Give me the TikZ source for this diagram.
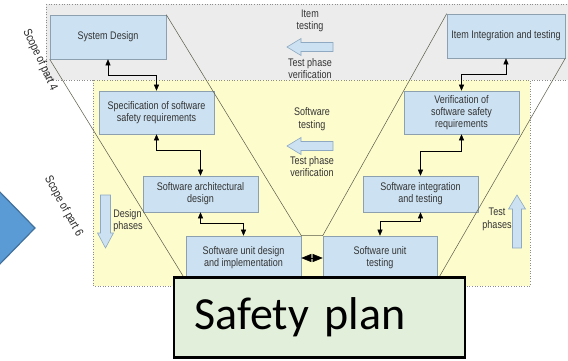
\documentclass[tikz,border=0pt]{standalone}
\usepackage{fontspec}
\setmainfont{Liberation Sans}
\newfontfamily\stagefont[FakeStretch=0.82]{Liberation Sans}
\newfontfamily\planfont{Carlito}
\usetikzlibrary{arrows.meta}

\definecolor{regiongray}{HTML}{ECECEC}
\definecolor{regionyellow}{HTML}{FDFCCD}
\definecolor{boxfill}{HTML}{CCE2F2}
\definecolor{boxline}{HTML}{8CA0AF}
\definecolor{arrowline}{HTML}{8EA9C1}
\definecolor{planfill}{HTML}{E2EFDA}
\definecolor{pointerfill}{HTML}{5B9BD5}
\definecolor{pointerline}{HTML}{41719C}
\definecolor{vline}{HTML}{5A5A48}

\tikzset{
  region/.style={draw=black!45, dotted, line width=0.6pt},
  stage/.style={draw=boxline, fill=boxfill, line width=0.6pt, align=center,
    text=black!80, inner sep=2pt, font=\stagefont\fontsize{11}{12}\selectfont},
  label/.style={align=center, text=black!80, font=\stagefont\fontsize{11}{12.5}\selectfont},
  scopetext/.style={text=black!85, font=\stagefont\fontsize{12}{12}\selectfont},
  link/.style={{Triangle[length=6pt,width=5pt]}-{Triangle[length=6pt,width=5pt]}, line width=0.5pt},
  hollow/.style={draw=arrowline, fill=boxfill, line width=0.6pt},
  planbox/.style={draw=black, fill=planfill, line width=2.4pt, text width=250pt,
    align=left, inner sep=20.5pt, minimum height=79pt, font=\planfont\fontsize{46}{50}\selectfont}
}

\begin{document}
\begin{tikzpicture}[x=1pt, y=-1pt]
  \useasboundingbox (0,0) rectangle (568,361);
  \clip (0,0) rectangle (568,361);

  % scopes of part 4 and part 6
  \draw[region, fill=regiongray] (46,4) rectangle (580,80);
  \draw[region, fill=regionyellow] (93,80) rectangle (530,286);

  % the V model
  \node[stage, minimum width=116pt, minimum height=44pt] (sysdes) at (108,37) {System Design};
  \node[stage, minimum width=118pt, minimum height=44pt] (itemint) at (506,36) {Item Integration and testing};
  \node[stage, minimum width=115pt, minimum height=43pt] (spec) at (156.5,112.5) {Specification of software\\safety requirements};
  \node[stage, minimum width=115pt, minimum height=43pt] (verif) at (461.5,112.5) {Verification of\\software safety\\requirements};
  \node[stage, minimum width=115pt, minimum height=36pt] (arch) at (200.5,194) {Software architectural\\design};
  \node[stage, minimum width=115pt, minimum height=36pt] (integ) at (420.5,194) {Software integration\\and testing};
  \node[stage, minimum width=115pt, minimum height=44pt] (unitdes) at (243.5,258) {Software unit design\\and implementation};
  \node[stage, minimum width=114pt, minimum height=44pt] (unittest) at (380,258) {Software unit\\testing};

  \begin{scope}[draw=vline, line width=0.5pt]
    \draw (sysdes.north east) -- (unitdes.north east) -- (unittest.north west) -- (itemint.north west);
    \draw (sysdes.south west) -- (unitdes.south west);
    \draw (itemint.south east) -- (unittest.south east);
  \end{scope}

  \begin{scope}[link]
    \draw (sysdes.south) -- ++(0,16) -| (spec.north);
    \draw (spec.south) -- ++(0,16) -| (arch.north);
    \draw (arch.south) -- ++(0,11) -| (unitdes.north);
    \draw (unittest.north) -- ++(0,-14) -| (integ.south);
    \draw (integ.north) -- ++(0,-24) -| (verif.south);
    \draw (verif.north) -- ++(0,-16) -| (itemint.south);
    \draw[{Triangle[length=10pt,width=8pt]}-{Triangle[length=10pt,width=8pt]}] (unitdes.east) -- (unittest.west);
  \end{scope}

  % verification arrows in the middle
  \node[label] (itemtest) at (310,21) {Item\\testing};
  \node[label] (itemverif) at (310,68.5) {Test phase\\verification};
  \node[label] (swtest) at (312,119) {Software\\testing};
  \node[label] (swverif) at (312,166.5) {Test phase\\verification};
  \draw[hollow] (287,47) -- (301,38.5) -- (301,42.5) -- (333,42.5) -- (333,51.5) -- (301,51.5) -- (301,55.5) -- cycle;
  \draw[hollow] (287,146) -- (301,137.5) -- (301,141.5) -- (333,141.5) -- (333,150.5) -- (301,150.5) -- (301,154.5) -- cycle;

  % phase arrows at the sides
  \draw[hollow] (100.5,195) -- (110.5,195) -- (110.5,233) -- (113.5,233) -- (105.5,248) -- (97.5,233) -- (100.5,233) -- cycle;
  \node[label, align=left] (design) at (128,220.5) {Design\\phases};
  \draw[hollow] (512.5,248) -- (521.5,248) -- (521.5,209) -- (525.5,209) -- (517,195) -- (508.5,209) -- (512.5,209) -- cycle;
  \node[label] (testph) at (497,219.5) {Test\\phases};

  \node[scopetext, rotate=-65] (scope4) at (40,60) {Scope of part 4};
  \node[scopetext, rotate=-61] (scope6) at (63.5,206.5) {Scope of part 6};

  % pointer and plan
  \draw[fill=pointerfill, draw=pointerline, line width=1.2pt] (-4,188) -- (35,228) -- (-4,268) -- cycle;
  \node[planbox] (plan) at (319.5,317.5) {Safety plan};
\end{tikzpicture}
\end{document}
